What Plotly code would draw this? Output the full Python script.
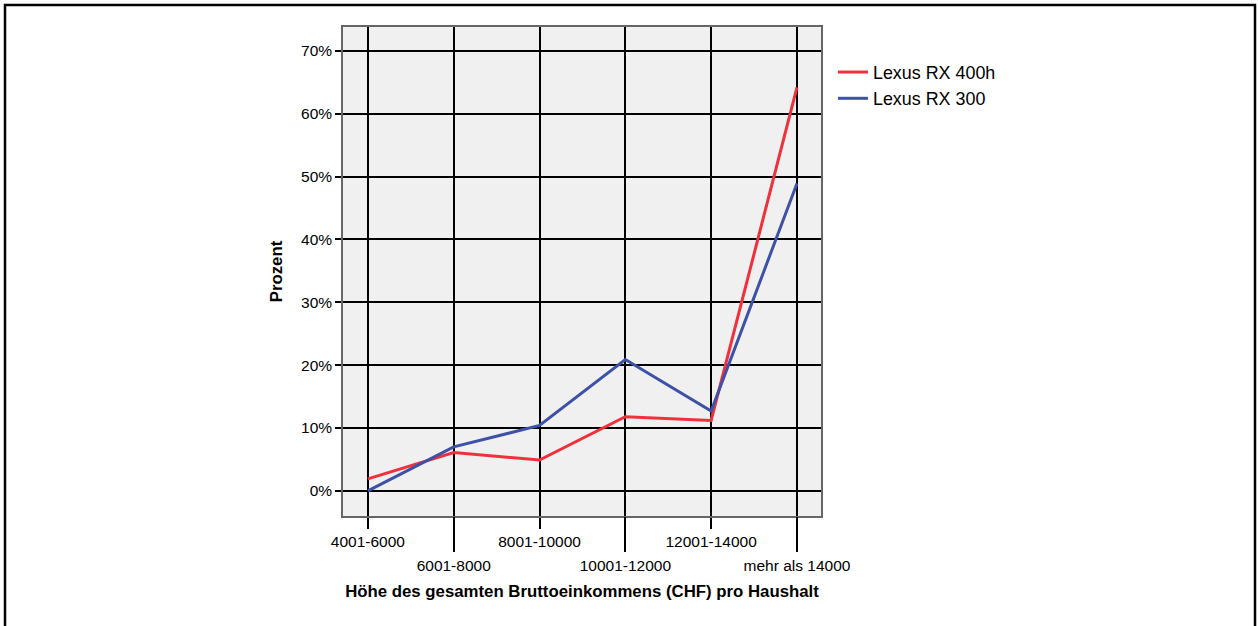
import plotly.graph_objects as go

# Daten
kategorien = ["4001-6000", "6001-8000", "8001-10000", "10001-12000", "12001-14000", "mehr als 14000"]
rx_400h = [1.9, 6.1, 4.9, 11.8, 11.2, 64.2]
rx_300 = [0.0, 7.0, 10.4, 20.9, 12.7, 48.9]
y_ticks = [0, 10, 20, 30, 40, 50, 60, 70]

ROT = "#f0313c"
BLAU = "#3d52a6"
FONT = "Liberation Sans, Arial, sans-serif"

pos = list(range(len(kategorien)))

fig = go.Figure()
fig.add_trace(go.Scatter(x=pos, y=rx_400h, mode="lines", name="Lexus RX 400h",
                         line=dict(color=ROT, width=3)))
fig.add_trace(go.Scatter(x=pos, y=rx_300, mode="lines", name="Lexus RX 300",
                         line=dict(color=BLAU, width=3)))

# kurze Ticks (gerade Indizes) und lange Ticks (ungerade) -> zwei x-Achsen
gerade = pos[0::2]
ungerade = pos[1::2]
xr = [-0.29, 5.28]
fig.update_layout(
    xaxis=dict(range=xr, tickmode="array", tickvals=gerade,
               ticktext=[kategorien[i] for i in gerade],
               ticks="outside", ticklen=11, tickwidth=1.5, tickcolor="black",
               showgrid=True, gridcolor="black", gridwidth=1.5,
               showline=True, linecolor="#666", linewidth=1.5, mirror=True,
               zeroline=False, tickfont=dict(size=15.5, color="black")),
    xaxis2=dict(range=xr, overlaying="x", side="bottom", tickmode="array",
                tickvals=ungerade, ticktext=[kategorien[i] for i in ungerade],
                ticks="outside", ticklen=35, tickwidth=1.5, tickcolor="black",
                showgrid=True, gridcolor="black", gridwidth=1.5,
                zeroline=False, tickfont=dict(size=15.5, color="black"),
                title=dict(text="<b>Höhe des gesamten Bruttoeinkommens (CHF) pro Haushalt</b>",
                           font=dict(size=16.8, color="black"), standoff=12)),
    yaxis=dict(range=[-4, 73.8], tickmode="array", tickvals=y_ticks,
               ticktext=[f"{v}%" for v in y_ticks],
               ticks="outside", ticklen=6, tickwidth=1.5, tickcolor="black",
               showgrid=True, gridcolor="black", gridwidth=1.5,
               showline=True, linecolor="#666", linewidth=1.5, mirror=True,
               zeroline=False, tickfont=dict(size=15.5, color="black"),
               title=dict(text="<b>Prozent</b>", font=dict(size=16.8, color="black"),
                          standoff=14)),
)
# unsichtbare Spur, damit xaxis2 angezeigt wird
fig.add_trace(go.Scatter(x=[pos[0]], y=[None], xaxis="x2", showlegend=False,
                         hoverinfo="skip"))

fig.update_layout(
    width=1258, height=626,
    margin=dict(l=343, r=437, t=27, b=110),
    paper_bgcolor="white", plot_bgcolor="#f0f0f0",
    font=dict(family=FONT, color="black"),
    legend=dict(x=1.025, y=0.945, xanchor="left", yanchor="top",
                font=dict(size=17.9), bgcolor="rgba(0,0,0,0)", tracegroupgap=0),
    showlegend=True,
)

# äusserer Rahmen
fig.add_shape(type="rect", xref="paper", yref="paper",
              x0=(5 - 343) / 478, x1=(1255 - 343) / 478,
              y0=(516 - 640) / 489, y1=(516 - 5) / 489,
              line=dict(color="black", width=2.5), layer="below")

# Body-Rand der Seite entfernen, damit der Rahmen sichtbar bleibt
fig.write_html("out.html", config={"displayModeBar": False},
               post_script="document.body.style.margin='0px';")
